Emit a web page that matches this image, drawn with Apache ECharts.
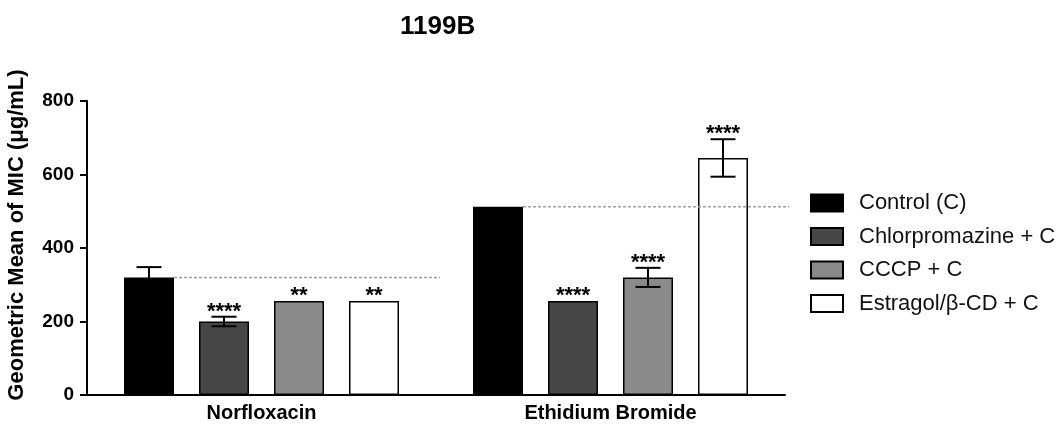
<!DOCTYPE html>
<html>
<head>
<meta charset="utf-8">
<script src="https://cdn.jsdelivr.net/npm/echarts@6/dist/echarts.min.js"></script>
<style>
html,body{margin:0;padding:0;background:#fff;}
#chart{width:1060px;height:428px;}
</style>
</head>
<body>
<div id="chart"></div>
<script>
// ---- data ----
const categories = ['Norfloxacin', 'Ethidium Bromide'];
const seriesNames = ['Control (C)', 'Chlorpromazine + C', 'CCCP + C', 'Estragol/β-CD + C'];
const control   = [320, 512];
const chlorprom = [200, 256];
const cccp      = [256, 320];
const estragol  = [256, 645];
const controlSD   = [28, 0];
const chlorpromSD = [13, 0];
const cccpSD      = [0, 26];
const estragolSD  = [0, 51];
const controlSig   = ['', ''];
const chlorpromSig = ['****', '****'];
const cccpSig      = ['**', '****'];
const estragolSig  = ['**', '****'];
const yTicks = [0, 200, 400, 600, 800];

// ---- layout / style ----
const FONT = '"Liberation Sans", Arial, sans-serif';
const BAR_W = 50, BAR_GAP = 25;
const values = [control, chlorprom, cccp, estragol];
const sds = [controlSD, chlorpromSD, cccpSD, estragolSD];
const sigs = [controlSig, chlorpromSig, cccpSig, estragolSig];
const fills = ['#000000', '#464646', '#8a8a8a', '#ffffff'];

const errData = [];
values.forEach((arr, k) => arr.forEach((v, i) => errData.push([i, k, v, sds[k][i]])));
const refData = control.map((v, i) => [i, v]);

const barSeries = values.map((arr, k) => ({
  type: 'bar',
  name: seriesNames[k],
  data: arr,
  barWidth: BAR_W,
  barGap: (BAR_GAP / BAR_W * 100) + '%',
  itemStyle: { color: fills[k], borderColor: '#000', borderWidth: 1.5 },
  z: 2
}));

const chart = echarts.init(document.getElementById('chart'), null, { renderer: 'canvas' });
chart.setOption({
  animation: false,
  backgroundColor: '#fff',
  textStyle: { fontFamily: FONT },
  title: {
    text: '1199B',
    left: 395, top: 9,
    textStyle: { fontFamily: FONT, fontSize: 26, fontWeight: 'bold', color: '#000' }
  },
  legend: {
    data: seriesNames.map(n => ({ name: n, icon: 'rect' })),
    orient: 'vertical',
    left: 810, top: 192,
    padding: 0,
    itemWidth: 32, itemHeight: 17,
    itemGap: 11.5,
    textStyle: { fontFamily: FONT, fontSize: 22, color: '#111', padding: [0, 0, 0, 11] }
  },
  grid: { left: 87, right: 275, top: 101, bottom: 33, containLabel: false, outerBoundsMode: 'none' },
  xAxis: {
    type: 'category',
    data: categories,
    axisLine: { lineStyle: { color: '#000', width: 2 } },
    axisTick: { alignWithLabel: true, length: 6, lineStyle: { color: '#000', width: 2 } },
    axisLabel: { fontFamily: FONT, fontSize: 20, fontWeight: 'bold', color: '#000', margin: 8 }
  },
  yAxis: {
    type: 'value',
    min: yTicks[0], max: yTicks[yTicks.length - 1], interval: 200,
    name: 'Geometric Mean of MIC (μg/mL)',
    nameLocation: 'middle',
    nameGap: 59,
    nameTextStyle: { fontFamily: FONT, fontSize: 22, fontWeight: 'bold', color: '#000', padding: [0, 0, 0, 26] },
    axisLine: { show: true, lineStyle: { color: '#000', width: 2 } },
    axisTick: { show: true, length: 7, lineStyle: { color: '#000', width: 2 } },
    axisLabel: { fontFamily: FONT, fontSize: 19, fontWeight: 'bold', color: '#000', margin: 13 },
    splitLine: { show: false }
  },
  series: barSeries.concat([
    {
      type: 'custom',
      name: 'ref',
      data: refData,
      z: 3,
      renderItem: function (params, api) {
        const cat = api.value(0), v = api.value(1);
        const p = api.coord([cat, v]);
        const band = api.size([1, 0])[0];
        const x0 = p[0] - 1.5 * (BAR_W + BAR_GAP) + BAR_W / 2;
        const x1 = p[0] + band / 2 + 4;
        return {
          type: 'line',
          shape: { x1: x0, y1: p[1], x2: x1, y2: p[1] },
          style: { stroke: '#a0a0a0', lineWidth: 1.5, lineDash: [3, 2] }
        };
      }
    },
    {
      type: 'custom',
      name: 'err',
      data: errData,
      z: 4,
      renderItem: function (params, api) {
        const cat = api.value(0), k = api.value(1), m = api.value(2), sd = api.value(3);
        const xc = api.coord([cat, m])[0] + (k - 1.5) * (BAR_W + BAR_GAP);
        const yM = api.coord([cat, m])[1];
        const yT = api.coord([cat, m + sd])[1];
        const yB = api.coord([cat, m - sd])[1];
        const cap = 12.5;
        const st = { stroke: '#000', lineWidth: 2 };
        const children = [];
        if (sd > 0) {
          children.push({ type: 'line', shape: { x1: xc, y1: yB, x2: xc, y2: yT }, style: st });
          children.push({ type: 'line', shape: { x1: xc - cap, y1: yT, x2: xc + cap, y2: yT }, style: st });
          children.push({ type: 'line', shape: { x1: xc - cap, y1: yB, x2: xc + cap, y2: yB }, style: st });
        }
        const s = sigs[k][cat];
        if (s) {
          children.push({
            type: 'text',
            style: {
              text: s, x: xc, y: Math.min(yT, yM) - 16,
              align: 'center', verticalAlign: 'top',
              font: 'bold 22px ' + FONT, fill: '#000'
            }
          });
        }
        return { type: 'group', children: children };
      }
    }
  ])
});
</script>
</body>
</html>
